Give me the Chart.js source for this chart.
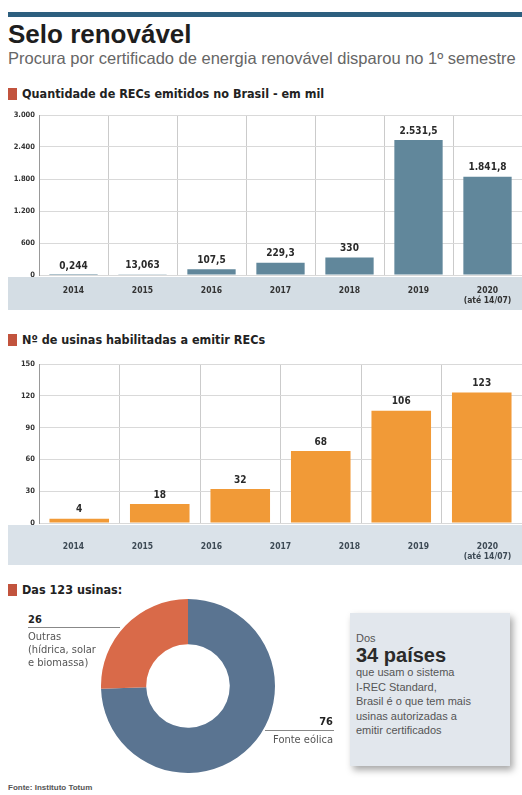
<!DOCTYPE html>
<html>
<head>
<meta charset="utf-8">
<script src="https://cdn.jsdelivr.net/npm/chart.js@4/dist/chart.umd.min.js"></script>
<style>
  body { margin: 0; width: 522px; height: 795px; background: #fff; position: relative; overflow: hidden;
         font-family: "Liberation Sans", Arial, sans-serif; }
  .abs { position: absolute; }
  #topbar { left: 8px; top: 12px; width: 514px; height: 5px; background: #2d5f7f; }
  #title { left: 8px; top: 19px; font-size: 26px; font-weight: bold; color: #1e1e1e; }
  #subtitle { left: 8px; top: 49px; font-size: 16.5px; color: #666; white-space: nowrap; }
  .section { left: 8px; padding-left: 14px; font-family: "Liberation Sans Narrow", "DejaVu Sans Condensed", sans-serif;
             font-weight: bold; font-size: 12.5px; line-height: 14px; color: #222; white-space: nowrap; }
  .section::before { content: ""; position: absolute; left: 0; top: 1px; width: 9px; height: 12px; background: #c2533d; }
  .box { left: 0; width: 522px; }
  #donutBox { left: 101px; top: 599px; width: 174px; height: 174px; }
  .num { font-weight: bold; font-size: 11px; color: #222; font-family: "Liberation Sans Narrow", "DejaVu Sans Condensed", sans-serif; }
  .lbl { font-size: 11px; line-height: 13px; color: #555; font-family: "Liberation Sans Narrow", "DejaVu Sans Condensed", sans-serif; }
  .rule { height: 0; border-top: 1px solid #888; }
  #note { left: 350px; top: 613px; width: 160px; height: 153px; background: #e2e7ed;
          box-shadow: 3px 4px 7px rgba(0,0,0,0.35); box-sizing: border-box; padding: 18px 0 0 6px; color: #555; }
  #note .small { font-size: 11px; line-height: 14px; }
  #note .big { font-size: 20px; line-height: 20px; font-weight: bold; color: #2a2a2a; }
  #note .body { font-size: 11px; line-height: 14.5px; }
  #source { left: 8px; top: 783px; font-size: 8px; font-weight: bold; color: #555; }
</style>
</head>
<body>
<div id="topbar" class="abs"></div>
<div id="title" class="abs">Selo renovável</div>
<div id="subtitle" class="abs">Procura por certificado de energia renovável disparou no 1º semestre</div>

<div class="abs section" style="top:87px">Quantidade de RECs emitidos no Brasil - em mil</div>
<div class="abs box" style="top:105px;height:207px"><canvas id="recsChart"></canvas></div>

<div class="abs section" style="top:333px">Nº de usinas habilitadas a emitir RECs</div>
<div class="abs box" style="top:352px;height:216px"><canvas id="plantsChart"></canvas></div>

<div class="abs section" style="top:583px">Das 123 usinas:</div>
<div id="donutBox" class="abs"><canvas id="sourcesChart"></canvas></div>

<div id="otherNum" class="abs num" style="left:28px;top:613px"></div>
<div class="abs rule" style="left:28px;top:627px;width:92px"></div>
<div id="otherName" class="abs lbl" style="left:28px;top:630px;width:90px"></div>

<div id="windNum" class="abs num" style="left:265px;top:715px;width:68px;text-align:right"></div>
<div class="abs rule" style="left:265px;top:730px;width:69px"></div>
<div id="windName" class="abs lbl" style="left:233px;top:733px;width:100px;text-align:right"></div>

<div id="note" class="abs">
  <div class="small">Dos</div>
  <div class="big">34 países</div>
  <div class="body">que usam o sistema<br>I-REC Standard,<br>Brasil é o que tem mais<br>usinas autorizadas a<br>emitir certificados</div>
</div>
<div id="source" class="abs">Fonte: Instituto Totum</div>

<script>
// RECs emitidos, em mil
const recYears = ['2014', '2015', '2016', '2017', '2018', '2019', ['2020', '(até 14/07)']];
const recValues = [0.244, 13.063, 107.5, 229.3, 330, 2531.5, 1841.8];

// usinas habilitadas (6 barras sob 7 rótulos de ano, como no original)
const plantYears = ['2014', '2015', '2016', '2017', '2018', '2019', ['2020', '(até 14/07)']];
const plantValues = [4, 18, 32, 68, 106, 123];

// fontes das usinas
const sourceNames = ['Fonte eólica', 'Outras (hídrica, solar e biomassa)'];
const sourceValues = [76, 26];

const narrow = '"Liberation Sans Narrow", "DejaVu Sans Condensed", sans-serif';
Chart.defaults.animation = false;
Chart.defaults.plugins.legend.display = false;
Chart.defaults.plugins.tooltip.enabled = false;

// 1.841,8 style numbers
function fmt(v) {
    const parts = String(v).split('.');
    const whole = parts[0].replace(/\B(?=(\d{3})+(?!\d))/g, '.');
    return parts[1] ? whole + ',' + parts[1] : whole;
}

// grey strip behind the year labels
const bandPlugin = {
    id: 'band',
    beforeDraw(chart, args, opts) {
        const { ctx, chartArea } = chart;
        ctx.save();
        ctx.fillStyle = opts.color;
        ctx.fillRect(8, chartArea.bottom + 2, chart.width - 8, opts.height);
        ctx.restore();
    }
};

const valueLabels = {
    id: 'valueLabels',
    afterDatasetsDraw(chart) {
        const { ctx } = chart;
        const values = chart.data.datasets[0].data;
        ctx.save();
        ctx.font = 'bold 10px ' + narrow;
        ctx.fillStyle = '#2a2a2a';
        ctx.textAlign = 'center';
        ctx.textBaseline = 'bottom';
        chart.getDatasetMeta(0).data.forEach((bar, i) => {
            ctx.fillText(fmt(values[i]), bar.x, bar.y - 4);
        });
        ctx.restore();
    }
};

function yAxis(max, step) {
    return {
        min: 0,
        max: max,
        ticks: { stepSize: step, padding: 4, color: '#333', font: { family: narrow, size: 7.5, weight: 'bold' }, callback: v => fmt(v) },
        grid: { color: '#d9d9d9', drawTicks: false },
        border: { color: '#999' },
        afterFit(scale) { scale.width = 39; }
    };
}

function yearTicks() {
    return { padding: 10, color: '#333', font: { family: narrow, size: 8.5, weight: 'bold', lineHeight: 1.25 }, maxRotation: 0, autoSkip: false };
}

const recsCtx = document.getElementById('recsChart');
new Chart(recsCtx, {
    type: 'bar',
    data: {
        labels: recYears,
        datasets: [{
            data: recValues,
            backgroundColor: '#61879b',
            categoryPercentage: 1,
            barPercentage: 0.7
        }]
    },
    options: {
        responsive: true,
        maintainAspectRatio: false,
        layout: { padding: { top: 10, left: 0, right: 0, bottom: 0 } },
        plugins: { band: { color: '#d4dde4', height: 33 } },
        scales: {
            x: {
                grid: { color: '#cbcbcb', drawTicks: false, offset: true },
                border: { display: false },
                ticks: yearTicks(),
                afterFit(scale) { scale.height = 37; }
            },
            y: yAxis(3000, 600)
        }
    },
    plugins: [bandPlugin, valueLabels]
});

const plantsCtx = document.getElementById('plantsChart');
new Chart(plantsCtx, {
    type: 'bar',
    data: {
        datasets: [{
            xAxisID: 'xb',
            data: plantValues,
            backgroundColor: '#f19a37',
            categoryPercentage: 1,
            barPercentage: 0.74
        }]
    },
    options: {
        responsive: true,
        maintainAspectRatio: false,
        layout: { padding: { top: 12, left: 0, right: 0, bottom: 0 } },
        plugins: { band: { color: '#dae2e9', height: 40 } },
        scales: {
            xb: {
                type: 'category',
                labels: plantValues.map((v, i) => String(i)),
                position: 'bottom',
                offset: true,
                grid: { color: '#cbcbcb', drawTicks: false, offset: true },
                border: { display: false },
                ticks: { display: false },
                afterFit(scale) { scale.height = 0; }
            },
            x: {
                type: 'category',
                labels: plantYears,
                position: 'bottom',
                offset: true,
                grid: { display: false },
                border: { display: false },
                ticks: Object.assign(yearTicks(), { color: '#3d4a55' }),
                afterFit(scale) { scale.height = 45; }
            },
            y: yAxis(150, 30)
        }
    },
    plugins: [bandPlugin, valueLabels]
});

const sourcesCtx = document.getElementById('sourcesChart');
new Chart(sourcesCtx, {
    type: 'doughnut',
    data: {
        labels: sourceNames,
        datasets: [{
            data: sourceValues,
            backgroundColor: ['#5a7491', '#d96a49'],
            borderWidth: 0
        }]
    },
    options: {
        responsive: true,
        maintainAspectRatio: false,
        cutout: '48%'
    }
});

document.getElementById('windNum').textContent = sourceValues[0];
document.getElementById('windName').textContent = sourceNames[0];
document.getElementById('otherNum').textContent = sourceValues[1];
document.getElementById('otherName').innerHTML = 'Outras<br>(hídrica, solar<br>e biomassa)';
</script>
</body>
</html>
